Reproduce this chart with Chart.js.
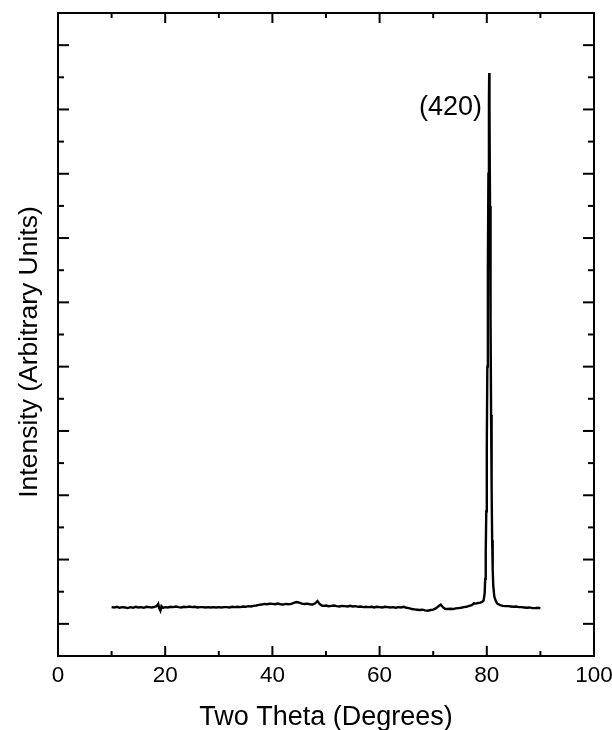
<!DOCTYPE html>
<html>
<head>
<meta charset="utf-8">
<script src="https://cdn.jsdelivr.net/npm/chart.js@4/dist/chart.umd.min.js"></script>
<style>
  html, body { margin: 0; padding: 0; background: #fff; }
  canvas { display: block; }
</style>
</head>
<body>
<canvas id="chart" width="612" height="730"></canvas>
<script>
/*************** XRD scan data ****************/

// two theta positions (degrees), baseline + (420) reflection
var twoTheta = [
  10.0, 10.5, 11.0, 11.5, 12.0, 12.5, 13.0, 13.5, 14.0, 14.5, 15.0, 15.5, 16.0, 16.5, 17.0, 17.5,
  18.0, 18.4, 18.7, 18.9, 19.1, 19.3, 19.6, 20.0, 20.5, 21.0, 21.5, 22.0, 22.5, 23.0, 23.5, 24.0,
  24.5, 25.0, 25.5, 26.0, 26.5, 27.0, 27.5, 28.0, 28.5, 29.0, 29.5, 30.0, 30.5, 31.0, 31.5, 32.0,
  32.5, 33.0, 33.5, 34.0, 34.5, 35.0, 35.5, 36.0, 36.5, 37.0, 37.5, 38.0, 38.5, 39.0, 39.5, 40.0,
  40.5, 41.0, 41.5, 42.0, 42.5, 43.0, 43.5, 44.0, 44.5, 45.0, 45.5, 46.0, 46.5, 47.0, 47.5, 48.0,
  48.4, 48.8, 49.2, 49.6, 50.0, 50.5, 51.0, 51.5, 52.0, 52.5, 53.0, 53.5, 54.0, 54.5, 55.0, 55.5,
  56.0, 56.5, 57.0, 57.5, 58.0, 58.5, 59.0, 59.5, 60.0, 60.5, 61.0, 61.5, 62.0, 62.5, 63.0, 63.5,
  64.0, 64.5, 65.0, 65.5, 66.0, 66.5, 67.0, 67.5, 68.0, 68.5, 69.0, 69.5, 70.0, 70.5, 71.0, 71.4,
  71.8, 72.2, 72.7, 73.2, 73.7, 74.2, 74.7, 75.2, 75.7, 76.2, 76.7, 77.2, 77.6, 78.0, 78.4, 78.8,
  79.1, 79.4, 79.6, 79.7, 79.8, 79.9, 80.0, 80.1, 80.2, 80.3, 80.4, 80.45, 80.5, 80.6, 80.7, 80.8,
  80.9, 81.0, 81.1, 81.2, 81.4, 81.7, 82.0, 82.5, 83.0, 83.5, 84.0, 84.5, 85.0, 85.5, 86.0, 86.5,
  87.0, 87.5, 88.0, 88.5, 89.0, 89.5, 90.0
];

// intensity (arbitrary units)
var intensity = [
  1.52, 1.51, 1.53, 1.50, 1.52, 1.51, 1.49, 1.52, 1.50, 1.53, 1.51, 1.52, 1.50, 1.53, 1.52, 1.51,
  1.53, 1.55, 1.62, 1.48, 1.41, 1.55, 1.50, 1.52, 1.51, 1.53, 1.52, 1.54, 1.52, 1.51, 1.53, 1.52,
  1.54, 1.52, 1.53, 1.51, 1.52, 1.52, 1.51, 1.52, 1.51, 1.52, 1.51, 1.52, 1.51, 1.52, 1.52, 1.51,
  1.53, 1.52, 1.53, 1.52, 1.54, 1.53, 1.55, 1.54, 1.56, 1.57, 1.59, 1.60, 1.62, 1.61, 1.63, 1.62,
  1.61, 1.63, 1.61, 1.60, 1.62, 1.61, 1.62, 1.65, 1.68, 1.66, 1.63, 1.62, 1.63, 1.61, 1.60, 1.64,
  1.71, 1.62, 1.57, 1.56, 1.57, 1.55, 1.56, 1.57, 1.55, 1.54, 1.56, 1.55, 1.54, 1.56, 1.54, 1.55,
  1.53, 1.54, 1.52, 1.53, 1.52, 1.53, 1.51, 1.53, 1.52, 1.51, 1.53, 1.52, 1.51, 1.52, 1.50, 1.52,
  1.51, 1.53, 1.50, 1.49, 1.46, 1.45, 1.44, 1.43, 1.44, 1.42, 1.41, 1.43, 1.44, 1.48, 1.55, 1.60,
  1.52, 1.47, 1.46, 1.47, 1.46, 1.48, 1.49, 1.50, 1.52, 1.53, 1.56, 1.58, 1.64, 1.63, 1.65, 1.66,
  1.68, 1.72, 1.95, 2.4, 3.2, 4.5, 6.5, 9.0, 12.0, 15.0, 17.3, 18.13, 17.0, 14.0, 10.5, 7.5,
  5.2, 3.6, 2.7, 2.2, 1.85, 1.70, 1.62, 1.58, 1.56, 1.55, 1.55, 1.54, 1.53, 1.54, 1.52, 1.52,
  1.51, 1.50, 1.51, 1.49, 1.49, 1.50, 1.49
];

// axis tick values
var xTickLabels = [0, 20, 40, 60, 80, 100];
var peakLabel = '(420)';
var peakLabelAt = [79.1, 17.05]; // right edge / middle of the label, in data units

var FONT = '"Liberation Sans", Arial, Helvetica, sans-serif';

/*************** Frame, inward ticks and labels ****************/

function strokeLine(ctx, x1, y1, x2, y2) {
    ctx.beginPath();
    ctx.moveTo(x1, y1);
    ctx.lineTo(x2, y2);
    ctx.stroke();
}

var frameTicks = {
    id: 'frameTicks',
    afterDraw: function (chart) {
        var ctx = chart.ctx, a = chart.chartArea;
        var xs = chart.scales.x, ys = chart.scales.y;
        ctx.save();
        ctx.strokeStyle = '#000';
        ctx.lineWidth = 2;
        ctx.lineCap = 'butt';
        ctx.strokeRect(a.left, a.top, a.right - a.left, a.bottom - a.top);

        xs.ticks.forEach(function (t) {
            if (t.value <= xs.min || t.value >= xs.max) return;
            var px = xs.getPixelForValue(t.value);
            var len = t.value % 20 === 0 ? 10 : 5;
            strokeLine(ctx, px, a.bottom, px, a.bottom - len);
            strokeLine(ctx, px, a.top, px, a.top + len);
        });
        ys.ticks.forEach(function (t) {
            if (t.value <= ys.min || t.value >= ys.max) return;
            var py = ys.getPixelForValue(t.value);
            var len = t.value % 2 === 1 ? 11 : 6;
            strokeLine(ctx, a.left, py, a.left + len, py);
            strokeLine(ctx, a.right, py, a.right - len, py);
        });

        ctx.fillStyle = '#000';
        ctx.font = '27px ' + FONT;
        ctx.textAlign = 'right';
        ctx.textBaseline = 'middle';
        ctx.fillText(peakLabel, xs.getPixelForValue(peakLabelAt[0]), ys.getPixelForValue(peakLabelAt[1]));

        // y axis title
        ctx.translate(30, 352);
        ctx.rotate(-Math.PI / 2);
        ctx.textAlign = 'center';
        ctx.font = '26.5px ' + FONT;
        ctx.fillText('Intensity (Arbitrary Units)', 0, 0);
        ctx.restore();
    }
};

/*************** Creating chart ****************/

var points = twoTheta.map(function (v, i) { return {x: v, y: intensity[i]}; });

var chart = new Chart(document.getElementById('chart'), {
    type: 'line',
    data: {
        datasets: [{
            data: points,
            borderColor: '#000',
            borderWidth: 2.4,
            pointRadius: 0,
            tension: 0,
            fill: false
        }]
    },
    options: {
        responsive: false,
        animation: false,
        layout: { padding: { top: 13, right: 18, left: 0, bottom: 0 } },
        plugins: { legend: { display: false }, tooltip: { enabled: false } },
        scales: {
            x: {
                type: 'linear',
                min: 0,
                max: 100,
                afterFit: function (s) {
                    s.height = 74;
                    s.paddingLeft = 0;
                    s.paddingRight = 0;
                },
                grid: { display: false, drawTicks: false },
                border: { display: false },
                ticks: {
                    stepSize: 10,
                    autoSkip: false,
                    maxRotation: 0,
                    padding: 6,
                    color: '#000',
                    font: { family: FONT, size: 22.5 },
                    callback: function (v) { return xTickLabels.indexOf(v) >= 0 ? String(v) : ''; }
                },
                title: {
                    display: true,
                    text: 'Two Theta (Degrees)',
                    color: '#000',
                    font: { family: FONT, size: 27, lineHeight: 1 },
                    padding: { top: 0, bottom: -1 }
                }
            },
            y: {
                min: 0,
                max: 20,
                afterFit: function (s) { s.width = 58; },
                grid: { display: false, drawTicks: false },
                border: { display: false },
                ticks: { stepSize: 1, display: false }
            }
        }
    },
    plugins: [frameTicks]
});
</script>
</body>
</html>
